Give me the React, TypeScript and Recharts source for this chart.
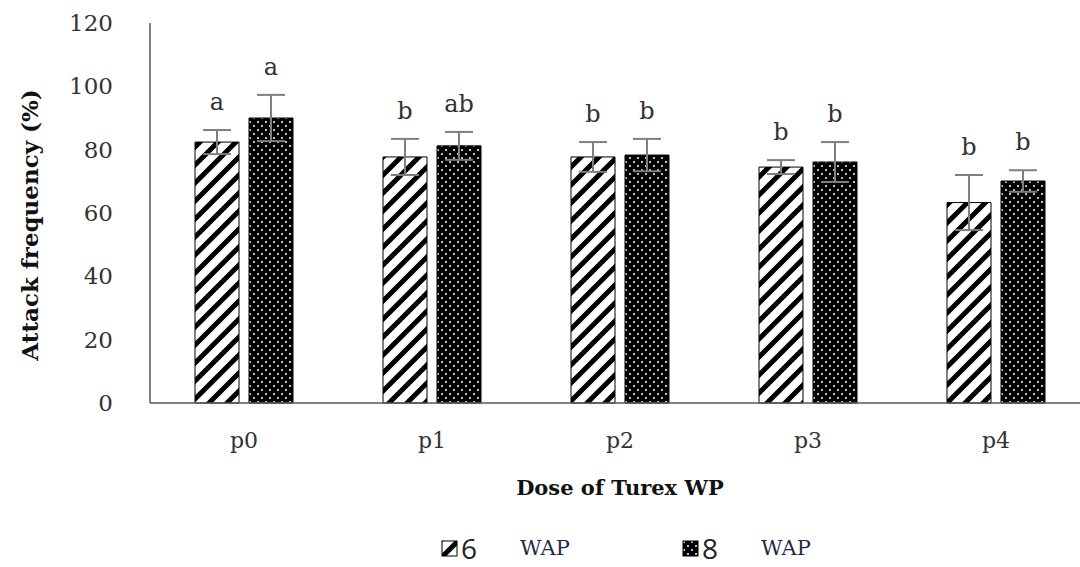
import React from "react";
import {
  BarChart,
  Bar,
  XAxis,
  YAxis,
  ErrorBar,
  LabelList,
} from "recharts";

const categories = ["p0", "p1", "p2", "p3", "p4"];
const wap6 = [82.4, 77.7, 77.7, 74.5, 63.3];
const wap8 = [90, 81.2, 78.3, 76.1, 70.1];
const err6 = [3.8, 5.7, 4.7, 2.2, 8.7];
const err8 = [7.3, 4.4, 5.1, 6.3, 3.4];
const letters6 = ["a", "b", "b", "b", "b"];
const letters8 = ["a", "ab", "b", "b", "b"];
const yTicks = [0, 20, 40, 60, 80, 100, 120];
const seriesNames = ["6", "8"];

const data = categories.map((c, i) => ({
  dose: c,
  w6: wap6[i],
  w8: wap8[i],
  e6: err6[i],
  e8: err8[i],
}));

const serif = "'DejaVu Serif', 'Liberation Serif', serif";

function Patterns() {
  return (
    <svg width={0} height={0} style={{ position: "absolute" }}>
      <defs>
        <pattern id="hatch" patternUnits="userSpaceOnUse" width={18} height={18}>
          <rect width={18} height={18} fill="#fff" />
          <path
            d="M-4.5,4.5 L4.5,-4.5 M0,18 L18,0 M13.5,22.5 L22.5,13.5"
            stroke="#000"
            strokeWidth={5}
          />
        </pattern>
        <pattern id="dots" patternUnits="userSpaceOnUse" width={8} height={8}>
          <rect width={8} height={8} fill="#000" />
          <circle cx={2} cy={2} r={1} fill="#fff" />
          <circle cx={6} cy={6} r={1} fill="#fff" />
        </pattern>
      </defs>
    </svg>
  );
}

function makeLetterLabel(errs: number[], letters: string[]) {
  return (props: any) => {
    const vb = props.viewBox ?? props;
    const { x, y, width, height } = vb;
    const i = props.index;
    const v = Number(props.value);
    if (i == null || !v) return null;
    const ppu = height / v;
    const top = y - errs[i] * ppu;
    return (
      <text
        x={x + width / 2}
        y={top - 20}
        textAnchor="middle"
        fontFamily={serif}
        fontSize={24}
        fill="#333"
      >
        {letters[i]}
      </text>
    );
  };
}

function YLabel(props: any) {
  const vb = props.viewBox || { x: 0, y: 23, width: 150, height: 380 };
  const cx = vb.x + 38;
  const cy = vb.y + vb.height / 2 + 12;
  return (
    <text
      x={cx}
      y={cy}
      transform={`rotate(-90, ${cx}, ${cy})`}
      textAnchor="middle"
      fontFamily={serif}
      fontSize={23}
      fontWeight="bold"
      fill="#111"
    >
      Attack frequency (%)
    </text>
  );
}

function LegendBox() {
  const fills = ["url(#hatch)", "url(#dots)"];
  return (
    <div
      style={{
        position: "absolute",
        left: 441,
        top: 530,
        height: 36,
        display: "flex",
        alignItems: "center",
      }}
    >
      {seriesNames.map((num, i) => (
        <div key={num} style={{ display: "flex", alignItems: "center", width: 241 }}>
          <svg width={17} height={17}>
            <rect x={1} y={1} width={15} height={15} fill={fills[i]} stroke="#000" strokeWidth={1} />
          </svg>
          <span
            style={{
              display: "inline-block",
              width: 59,
              marginLeft: 3,
              fontFamily: "'Open Sans', sans-serif",
              fontSize: 28,
              lineHeight: "36px",
              color: "#222",
            }}
          >
            {num}
          </span>
          <span style={{ fontFamily: serif, fontSize: 21, lineHeight: "36px", color: "#1f2a44" }}>
            WAP
          </span>
        </div>
      ))}
    </div>
  );
}

export default function App() {
  return (
    <>
      <style>{"html, body { overflow: hidden; }"}</style>
      <div
        style={{
          position: "absolute",
          left: 0,
          top: 0,
          width: 1080,
          height: 567,
          background: "#fff",
          overflow: "hidden",
        }}
      >
        <Patterns />
        <BarChart
          width={1090}
          height={567}
          data={data}
          margin={{ top: 23, right: 0, bottom: 64, left: 0 }}
          barSize={44}
          barGap={10}
        >
          <XAxis
            dataKey="dose"
            height={100}
            tickLine={false}
            tickSize={0}
            tickMargin={29}
            stroke="#595959"
            strokeWidth={1.5}
            tick={{ fill: "#333", fontFamily: serif, fontSize: 22 }}
            label={{
              value: "Dose of Turex WP",
              position: "insideBottom",
              offset: 8,
              style: { fontFamily: serif, fontSize: 21, fontWeight: "bold", fill: "#111" },
            }}
          />
          <YAxis
            width={150}
            domain={[0, 120]}
            ticks={yTicks}
            interval={0}
            tickLine={false}
            tickSize={0}
            tickMargin={37}
            stroke="#595959"
            strokeWidth={1.5}
            tick={{ fill: "#333", fontFamily: serif, fontSize: 23 }}
            label={{ content: (p: any) => <YLabel {...p} /> }}
          />
          <Bar dataKey="w6" name="6 WAP" fill="url(#hatch)" stroke="#000" strokeWidth={1} isAnimationActive={false}>
            <ErrorBar dataKey="e6" width={14} stroke="#7f7f7f" strokeWidth={2} direction="y" />
            <LabelList dataKey="w6" content={makeLetterLabel(err6, letters6)} />
          </Bar>
          <Bar dataKey="w8" name="8 WAP" fill="url(#dots)" stroke="#000" strokeWidth={1} isAnimationActive={false}>
            <ErrorBar dataKey="e8" width={14} stroke="#7f7f7f" strokeWidth={2} direction="y" />
            <LabelList dataKey="w8" content={makeLetterLabel(err8, letters8)} />
          </Bar>
        </BarChart>
        <LegendBox />
      </div>
    </>
  );
}
